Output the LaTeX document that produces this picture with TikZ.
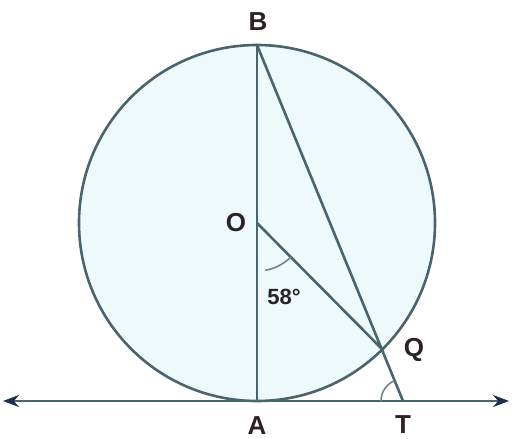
\documentclass[tikz,border=0pt]{standalone}
\usepackage{fontspec}
\setmainfont{Liberation Sans}
\usetikzlibrary{arrows.meta}
\definecolor{circfill}{HTML}{EEF9FC}
\definecolor{linec}{HTML}{4A646D}
\definecolor{tipc}{HTML}{1C2C4E}
\definecolor{labc}{HTML}{2A2226}
\tikzset{
  geo/.style={draw=linec, line width=1.3pt},
  lab/.style={text=labc, font=\fontsize{13}{15}\selectfont\bfseries, inner sep=0pt},
  anglab/.style={text=labc, font=\fontsize{11}{13}\selectfont\bfseries, inner sep=0pt},
  angarc/.style={draw=linec!80, line width=0.8pt},
}
\begin{document}
\begin{tikzpicture}[x=0.5pt, y=-0.5pt]
\useasboundingbox (0,0) rectangle (512,438);
% points
\coordinate (O) at (257,223);
\coordinate (A) at (257,401);
\coordinate (B) at (257,45);
\coordinate (Q) at (383,350);
\coordinate (T) at (403,401);
\coordinate (L) at (3,401);
\coordinate (R) at (509,401);
% circle
\draw[geo, fill=circfill] (O) circle[radius=178];
% lines
\draw[geo] (B) -- (A);
\draw[geo] (B) -- (T);
\draw[geo] (O) -- (Q);
\draw[geo, {Stealth[length=8pt,width=6pt,color=tipc]}-{Stealth[length=8pt,width=6pt,color=tipc]}] (L) -- (R);
% angle arcs
\draw[angarc] ([shift={(45.3:48)}]O) arc[start angle=45.3, end angle=80, radius=48];
\draw[angarc] ([shift={(180:22)}]T) arc[start angle=180, end angle=247, radius=22];
% labels
\node[lab] (lB) at (258,22) {B};
\node[lab] (lO) at (236,223) {O};
\node[lab] (lQ) at (414,350) {Q};
\node[lab] (lA) at (257,426) {A};
\node[lab] (lT) at (403,425) {T};
\node[anglab] (l58) at (284,297) {58°};
\end{tikzpicture}
\end{document}
